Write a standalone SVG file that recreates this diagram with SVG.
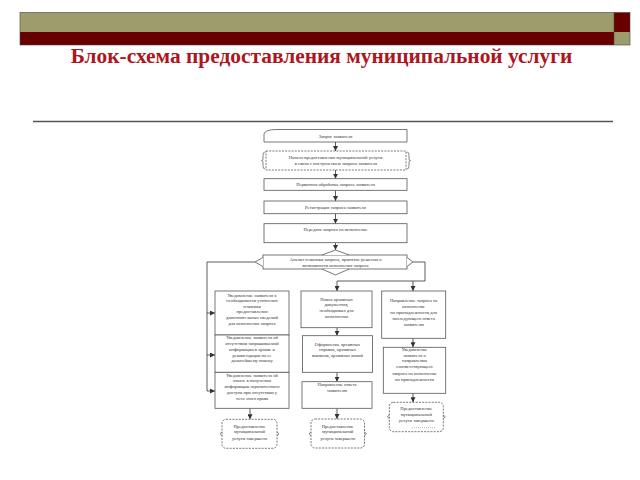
<svg xmlns="http://www.w3.org/2000/svg" width="640" height="480" viewBox="0 0 640 480">
<defs>
<marker id="ah" viewBox="0 0 6 6" refX="6" refY="3" markerWidth="5" markerHeight="5" orient="auto" markerUnits="userSpaceOnUse">
<path d="M0,0 L6,3 L0,6 Z" fill="#333"/>
</marker>
<style>
.bx{fill:#fff;stroke:#555;stroke-width:0.8}
.ds{fill:#fff;stroke:#555;stroke-width:0.8;stroke-dasharray:2,1.2}
.br{fill:none;stroke:#555;stroke-width:0.7}
.t{font-family:"Liberation Serif","DejaVu Serif",serif;font-size:4.6px;fill:#333;text-anchor:middle}
.c line,.c polyline{stroke:#333;stroke-width:0.8;fill:none}
.a{marker-end:url(#ah)}
</style>
</defs>
<rect width="640" height="480" fill="#fff"/>
<g id="header">
<rect x="20" y="12.5" width="594" height="19.5" fill="#9c9d6b"/>
<rect x="20" y="32" width="594" height="13" fill="#680000"/>
<rect x="614" y="12.5" width="16" height="19.5" fill="#680000"/>
<rect x="614" y="32" width="16" height="13" fill="#9c9d6b"/>
<rect x="20" y="12.5" width="610" height="32.5" fill="none" stroke="#444" stroke-width="0.6"/>
<line x1="614" y1="12.5" x2="614" y2="45" stroke="#444" stroke-width="0.6"/>
</g>
<text x="321.5" y="63" font-family="'Liberation Serif','DejaVu Serif',serif" font-size="21.4" font-weight="bold" fill="#ad1620" text-anchor="middle">Блок-схема предоставления муниципальной услуги</text>
<line x1="33" y1="121.5" x2="613" y2="121.5" stroke="#555" stroke-width="1.3"/>

<g class="c" id="connectors">
<line class="a" x1="335.5" y1="142" x2="335.5" y2="151"/>
<line class="a" x1="335.5" y1="170" x2="335.5" y2="178.7"/>
<line class="a" x1="335.5" y1="190.3" x2="335.5" y2="201"/>
<line class="a" x1="335.5" y1="213.7" x2="335.5" y2="223.7"/>
<line class="a" x1="335.5" y1="242.7" x2="335.5" y2="250"/>
<polyline points="255,262 207,262 207,391"/>
<line class="a" x1="207" y1="313" x2="215" y2="313"/>
<line class="a" x1="207" y1="355" x2="215" y2="355"/>
<line class="a" x1="207" y1="391" x2="215" y2="391"/>
<polyline points="413,262 425,262 425,281 337,281"/>
<line class="a" x1="337" y1="281" x2="337" y2="291"/>
<line class="a" x1="413" y1="281" x2="413" y2="291"/>
<line class="a" x1="337" y1="327.7" x2="337" y2="335.7"/>
<line class="a" x1="337" y1="372.3" x2="337" y2="381.7"/>
<line class="a" x1="337" y1="408.3" x2="337" y2="419"/>
<line class="a" x1="250" y1="408.3" x2="250" y2="419.3"/>
<line class="a" x1="413" y1="338.3" x2="413" y2="347.3"/>
<line class="a" x1="413" y1="393.3" x2="413" y2="402.3"/>
</g>

<g id="n1">
<path class="bx" d="M264,134 Q265,129.5 277,129.5 L407,129.5 L407,142 L264,142 Z"/>
<text class="t" x="335.5" y="137.5">Запрос заявителя</text>
</g>
<g id="n2">
<rect class="ds" x="266" y="151" width="140" height="19"/>
<path class="br" d="M265,152 Q263,152 263,155 L263,159 Q263,160.5 261.5,160.5 Q263,160.5 263,162 L263,166 Q263,169 265,169"/>
<path class="br" d="M407,152 Q409,152 409,155 L409,159 Q409,160.5 410.5,160.5 Q409,160.5 409,162 L409,166 Q409,169 407,169"/>
<text class="t" x="336" y="158.5">Начало предоставления муниципальной услуги:</text>
<text class="t" x="336" y="164.5">в связи с поступлением запроса заявителя</text>
</g>
<g id="n3">
<rect class="bx" x="264" y="178.7" width="143" height="11.6"/>
<text class="t" x="335.5" y="186">Первичная обработка запроса заявителя</text>
</g>
<g id="n4">
<rect class="bx" x="264" y="201" width="143" height="12.7"/>
<text class="t" x="335.5" y="208.8">Регистрация запроса заявителя</text>
</g>
<g id="n5">
<rect class="bx" x="264" y="223.7" width="143" height="19"/>
<text class="t" x="335.5" y="230.5">Передача запроса на исполнение</text>
</g>
<g id="decision">
<rect class="bx" x="263" y="255" width="144" height="14"/>
<path class="bx" d="M263,257.5 L255,262 L263,266.5"/>
<path class="bx" d="M407,257.5 L413,262 L407,266.5"/>
<path class="bx" d="M322,255 L335.5,250 L349,255"/>
<path class="bx" d="M322,269 L335.5,275 L349,269"/>
<text class="t" x="335.5" y="261">Анализ тематики запроса, принятие решения о</text>
<text class="t" x="335.5" y="266.5">возможности исполнения запроса</text>
</g>

<g id="l1">
<rect class="bx" x="215" y="291" width="74" height="44"/>
<text class="t" x="252" y="296.5">Уведомление заявителя о</text>
<text class="t" x="252" y="302">необходимости уточнения</text>
<text class="t" x="252" y="307.5">тематики</text>
<text class="t" x="252" y="313">предоставления</text>
<text class="t" x="252" y="319">дополнительных сведений</text>
<text class="t" x="252" y="325">для исполнения запроса</text>
</g>
<g id="l2">
<rect class="bx" x="215" y="335" width="74" height="37.3"/>
<text class="t" x="252" y="339">Уведомление заявителя об</text>
<text class="t" x="252" y="345">отсутствии запрашиваемой</text>
<text class="t" x="252" y="351">информации в архиве и</text>
<text class="t" x="252" y="356.7">рекомендации по ее</text>
<text class="t" x="252" y="362.4">дальнейшему поиску</text>
</g>
<g id="l3">
<rect class="bx" x="215" y="372.3" width="74" height="36"/>
<text class="t" x="252" y="376.5">Уведомление заявителя об</text>
<text class="t" x="252" y="382.3">отказе в получении</text>
<text class="t" x="252" y="388">информации ограниченного</text>
<text class="t" x="252" y="394">доступа при отсутствии у</text>
<text class="t" x="252" y="399.7">него этого права</text>
</g>
<g id="lend">
<rect class="ds" x="222" y="419.3" width="55" height="29" rx="4"/>
<path class="br" d="M222,432 L220,433.8 L222,435.6"/>
<path class="br" d="M277,432 L279,433.8 L277,435.6"/>
<text class="t" x="249.5" y="427.5">Предоставление</text>
<text class="t" x="249.5" y="433">муниципальной</text>
<text class="t" x="249.5" y="439.5">услуги завершено</text>
</g>

<g id="m1">
<rect class="bx" x="301" y="291" width="71" height="36.7"/>
<text class="t" x="336.5" y="300.5">Поиск архивных</text>
<text class="t" x="336.5" y="306.2">документов,</text>
<text class="t" x="336.5" y="312">необходимых для</text>
<text class="t" x="336.5" y="317.8">исполнения</text>
</g>
<g id="m2">
<rect class="bx" x="302.5" y="335.7" width="70" height="36.6"/>
<text class="t" x="337.5" y="345.5">Оформление архивных</text>
<text class="t" x="337.5" y="351.2">справок, архивных</text>
<text class="t" x="337.5" y="356.7">выписок, архивных копий</text>
</g>
<g id="m3">
<rect class="bx" x="302" y="381.7" width="70" height="26.6"/>
<text class="t" x="337" y="385.8">Направление ответа</text>
<text class="t" x="337" y="391.5">заявителю</text>
</g>
<g id="mend">
<rect class="ds" x="311" y="419" width="53.5" height="29" rx="4"/>
<path class="br" d="M311,432 L309,433.8 L311,435.6"/>
<path class="br" d="M364.5,432 L366.5,433.8 L364.5,435.6"/>
<text class="t" x="337.7" y="427.5">Предоставление</text>
<text class="t" x="337.7" y="433">муниципальной</text>
<text class="t" x="337.7" y="439.5">услуги завершено</text>
</g>

<g id="r1">
<rect class="bx" x="381.7" y="291" width="64" height="47.3"/>
<text class="t" x="413.7" y="302.2">Направление запроса на</text>
<text class="t" x="413.7" y="307.8">исполнение</text>
<text class="t" x="413.7" y="313.7">по принадлежности для</text>
<text class="t" x="413.7" y="319.5">последующего ответа</text>
<text class="t" x="413.7" y="325.5">заявителю</text>
</g>
<g id="r2">
<rect class="bx" x="383.3" y="347.3" width="62.4" height="46"/>
<text class="t" x="414.5" y="351.3">Уведомление</text>
<text class="t" x="414.5" y="356.6">заявителя о</text>
<text class="t" x="414.5" y="362.3">направлении</text>
<text class="t" x="414.5" y="368.2">соответствующего</text>
<text class="t" x="414.5" y="374.5">запроса на исполнение</text>
<text class="t" x="414.5" y="380.5">по принадлежности</text>
</g>
<g id="rend">
<rect class="ds" x="389.3" y="402.3" width="54" height="29.4" rx="4"/>
<path class="br" d="M389.3,415 L387.3,416.8 L389.3,418.6"/>
<path class="br" d="M443.3,415 L445.3,416.8 L443.3,418.6"/>
<text class="t" x="416.3" y="409.8">Предоставление</text>
<text class="t" x="416.3" y="415.5">муниципальной</text>
<text class="t" x="416.3" y="422">услуги завершено</text>
<line x1="412" y1="427.7" x2="435" y2="427.7" stroke="#777" stroke-width="0.5" stroke-dasharray="1,1"/>
</g>
</svg>
